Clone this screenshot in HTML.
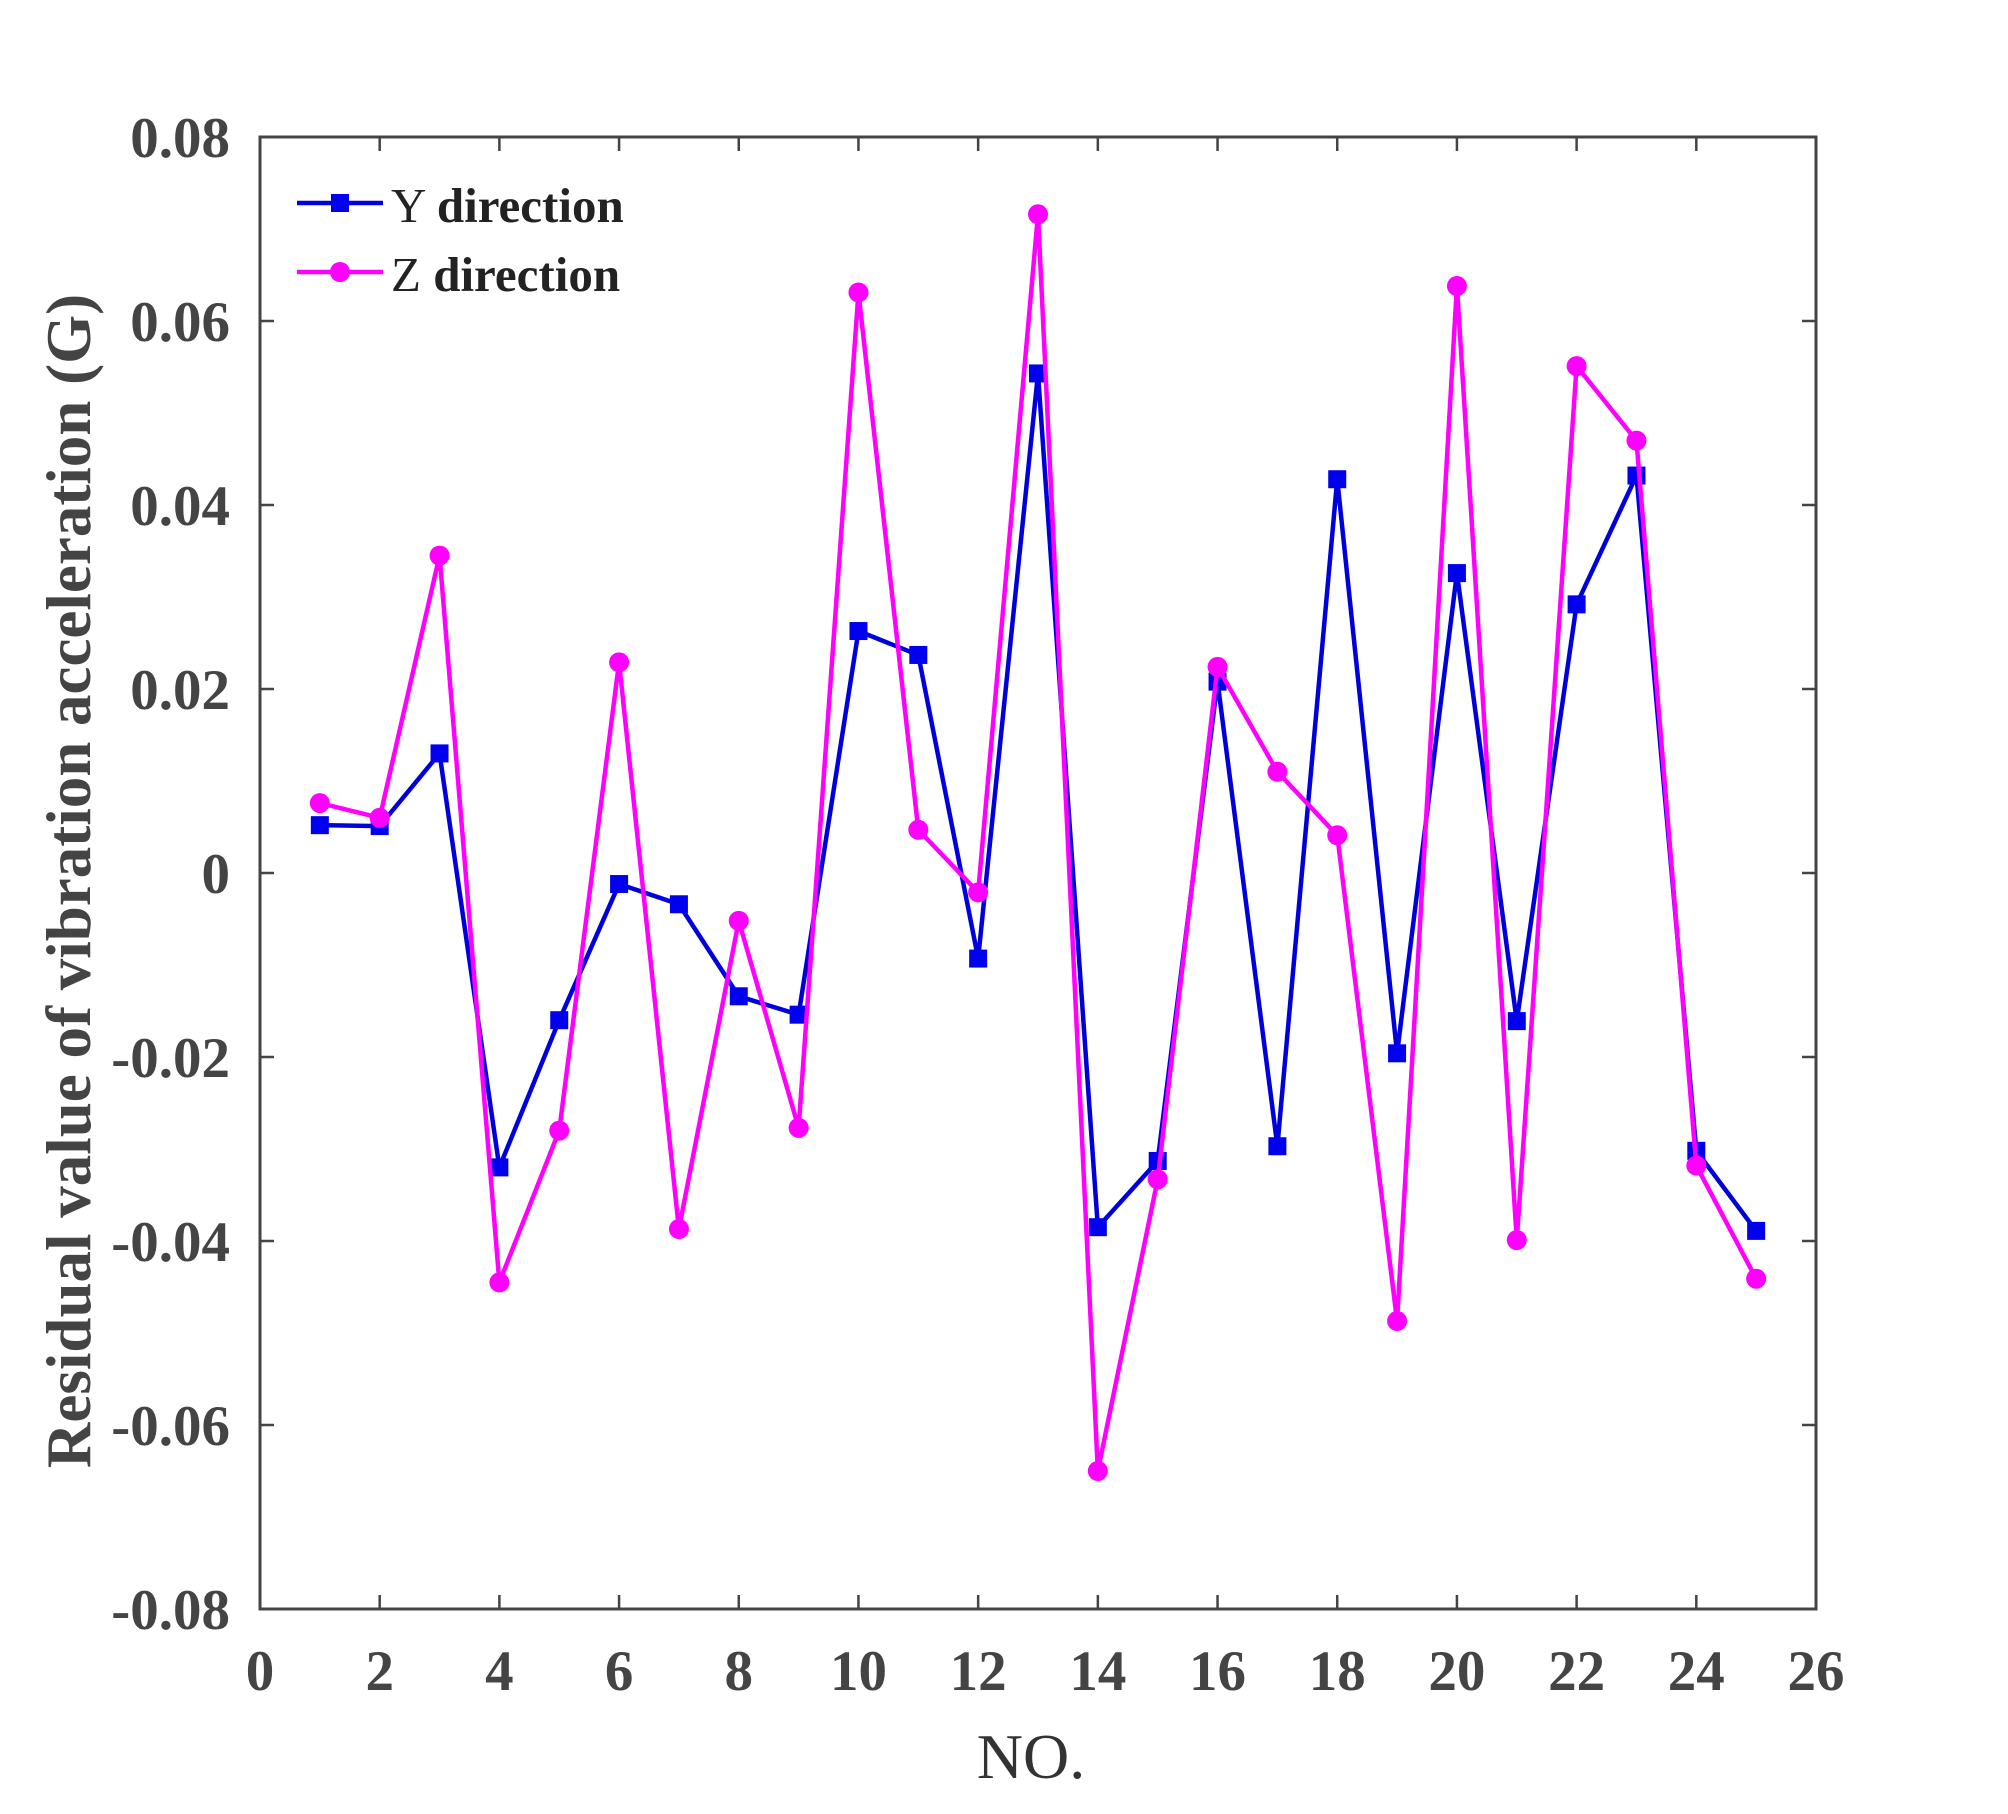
<!DOCTYPE html>
<html><head><meta charset="utf-8"><style>html,body{margin:0;padding:0;background:#fff}</style></head>
<body>
<svg id="s" width="2008" height="1809" xmlns="http://www.w3.org/2000/svg" font-family="Liberation Serif, serif"></svg>
<script>
const L=260,R=1816,T=137,B=1609;
const X=v=>L+(R-L)*v/26, Y=v=>T+(B-T)*(0.08-v)/0.16;
const y=[0.0052,0.0051,0.013,-0.032,-0.016,-0.0012,-0.0034,-0.0134,-0.0154,0.0263,0.0237,-0.0093,0.0543,-0.0385,-0.0313,0.0208,-0.0297,0.0428,-0.0196,0.0326,-0.0161,0.0292,0.0432,-0.0302,-0.0389];
const z=[0.0076,0.006,0.0345,-0.0445,-0.028,0.0229,-0.0387,-0.0052,-0.0277,0.0631,0.0047,-0.0021,0.0716,-0.065,-0.0333,0.0224,0.011,0.0041,-0.0487,0.0638,-0.0399,0.0551,0.047,-0.0318,-0.0441];
let h='';
for(let i=0;i<=26;i+=2){const x=X(i);h+=`<line x1="${x}" y1="${B}" x2="${x}" y2="${B-14}" stroke="#444" stroke-width="2.5"/><line x1="${x}" y1="${T}" x2="${x}" y2="${T+14}" stroke="#444" stroke-width="2.5"/>`;
h+=`<text x="${x}" y="1690" font-size="57" font-weight="bold" fill="#444" text-anchor="middle">${i}</text>`;}
for(let k=-4;k<=4;k++){const v=k*0.02,yy=Y(v);h+=`<line x1="${L}" y1="${yy}" x2="${L+14}" y2="${yy}" stroke="#444" stroke-width="2.5"/><line x1="${R}" y1="${yy}" x2="${R-14}" y2="${yy}" stroke="#444" stroke-width="2.5"/>`;
const lab=k==0?'0':(k<0?'-':'')+Math.abs(v).toFixed(2);
h+=`<text x="230" y="${yy+20}" font-size="57" font-weight="bold" fill="#444" text-anchor="end">${lab}</text>`;}
h+=`<rect x="${L}" y="${T}" width="${R-L}" height="${B-T}" fill="none" stroke="#444" stroke-width="3"/>`;
const pts=a=>a.map((v,i)=>X(i+1)+','+Y(v)).join(' ');
h+=`<polyline points="${pts(y)}" fill="none" stroke="#0000dd" stroke-width="4.5"/>`;
y.forEach((v,i)=>h+=`<rect x="${X(i+1)-9}" y="${Y(v)-9}" width="18" height="18" fill="#0000ee"/>`);
h+=`<polyline points="${pts(z)}" fill="none" stroke="#ff00ff" stroke-width="4.5"/>`;
z.forEach((v,i)=>h+=`<circle cx="${X(i+1)}" cy="${Y(v)}" r="10" fill="#ff00ff"/>`);
h+=`<line x1="297" y1="203" x2="383" y2="203" stroke="#0000dd" stroke-width="4.5"/><rect x="331" y="194" width="18" height="18" fill="#0000ee"/>`;
h+=`<line x1="297" y1="272" x2="383" y2="272" stroke="#ff00ff" stroke-width="4.5"/><circle cx="340" cy="272" r="10" fill="#ff00ff"/>`;
h+=`<text x="391" y="222" font-size="49" fill="#222">Y <tspan font-weight="bold">direction</tspan></text>`;
h+=`<text x="391" y="291" font-size="49" fill="#222">Z <tspan font-weight="bold">direction</tspan></text>`;
h+=`<text transform="translate(90,881) rotate(-90)" font-size="63" font-weight="bold" fill="#444" text-anchor="middle">Residual value of vibration acceleration (G)</text>`;
h+=`<text x="1031" y="1778" font-size="64" fill="#333" text-anchor="middle">NO.</text>`;
document.getElementById('s').innerHTML=h;
</script>
</body></html>
